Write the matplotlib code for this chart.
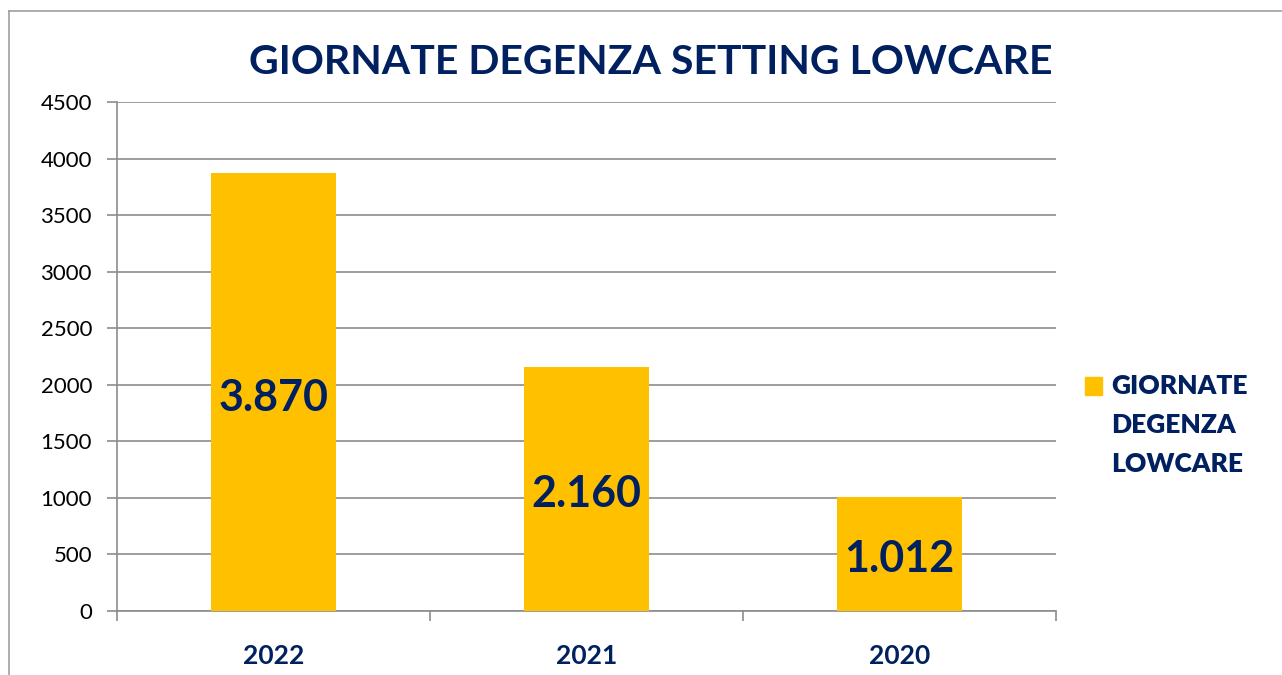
import matplotlib
matplotlib.use('Agg')
import matplotlib.pyplot as plt
from matplotlib.lines import Line2D
from matplotlib.patches import Rectangle
import numpy as np

# data
years = ['2022', '2021', '2020']
giornate = [3870, 2160, 1012]
labels = ['3.870', '2.160', '1.012']
yticks = [0, 500, 1000, 1500, 2000, 2500, 3000, 3500, 4000, 4500]
legend_label = 'GIORNATE\nDEGENZA\nLOWCARE'

NAVY = '#002060'
GOLD = '#FFC000'
GRID = '#8c8c8c'

plt.rcParams['font.family'] = ['Lato', 'DejaVu Sans']

W, H = 1282, 675
fig = plt.figure(figsize=(W / 100, H / 100), dpi=100)

# chart frame (only top and left edges visible)
fig.add_artist(Line2D([9 / W, 9 / W], [0, 1 - 11 / H], color='#a0a0a0', lw=1.2))
fig.add_artist(Line2D([9 / W, 1], [1 - 11 / H, 1 - 11 / H], color='#a0a0a0', lw=1.2))

ax = fig.add_axes([117 / W, 1 - 611 / H, (1056 - 117) / W, (611 - 102) / H])

x = np.arange(len(years))
bars = ax.bar(x, giornate, width=0.4, color=GOLD, zorder=3)

ax.set_xlim(-0.5, len(years) - 0.5)
ax.set_ylim(0, 4500)
ax.set_yticks(yticks)
ax.set_yticklabels([str(v) for v in yticks], fontsize=16, color='black')
ax.yaxis.grid(True, color=GRID, lw=1.2, zorder=0)

ax.set_xticks(x)
ax.set_xticklabels(years, fontsize=19, fontweight='bold', color=NAVY)
ax.set_xticks(np.arange(len(years) + 1) - 0.5, minor=True)
ax.tick_params(axis='x', which='major', length=0, pad=24)
ax.tick_params(axis='x', which='minor', length=7, color=GRID, width=1.2)
ax.tick_params(axis='y', length=7, color=GRID, width=1.2, pad=11)

for s in ['top', 'right']:
    ax.spines[s].set_visible(False)
for s in ['left', 'bottom']:
    ax.spines[s].set_color(GRID)
    ax.spines[s].set_linewidth(1.2)

for b, lab in zip(bars, labels):
    ax.annotate(lab, (b.get_x() + b.get_width() / 2, b.get_height() / 2),
                xytext=(0, -4), textcoords='offset points',
                ha='center', va='center', fontsize=31, fontweight='bold',
                color=NAVY, zorder=4)

fig.text(651 / W, 1 - 63 / H, 'GIORNATE DEGENZA SETTING LOWCARE',
         ha='center', va='center', fontsize=29.5, fontweight='bold', color=NAVY)

# legend: one square key, text to its right
fig.add_artist(Rectangle((1085 / W, 1 - 395 / H), 17 / W, 18 / H,
                         color=GOLD, transform=fig.transFigure))
fig.text(1111 / W, 1 - 374 / H, legend_label, ha='left', va='top',
         fontsize=19, fontweight='heavy', color=NAVY, linespacing=1.75)

fig.savefig('out.png', dpi=100)
